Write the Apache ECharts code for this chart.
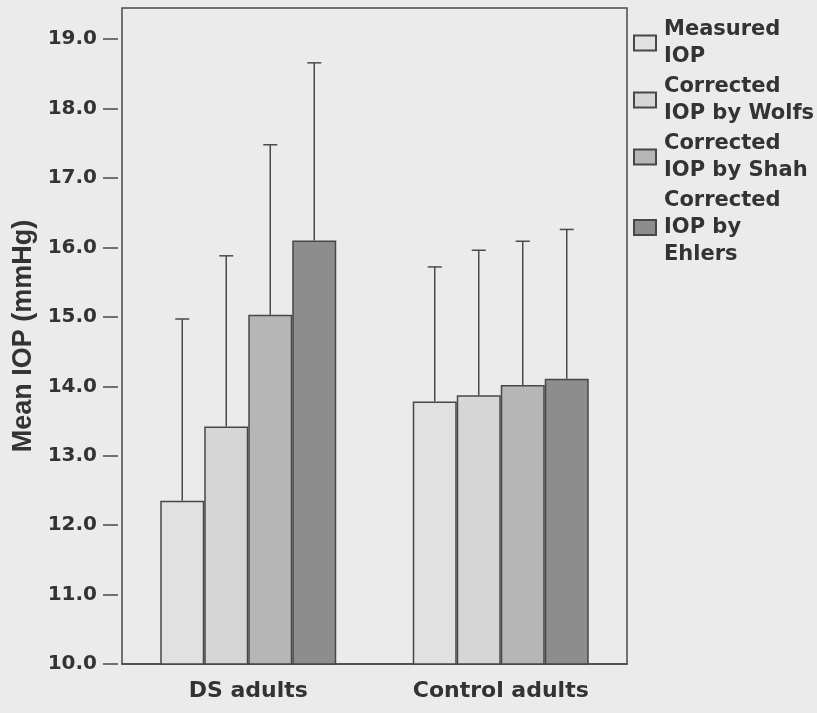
<!DOCTYPE html>
<html>
<head>
<meta charset="utf-8">
<script src="https://cdn.jsdelivr.net/npm/echarts@6/dist/echarts.min.js"></script>
<style>
  html, body { margin: 0; padding: 0; background: #ebebeb; }
  #main { width: 817px; height: 713px; }
</style>
</head>
<body>
<div id="main"></div>
<script>
// categories and values
var categories = ['DS adults', 'Control adults'];
var seriesNames = ['Measured\nIOP', 'Corrected\nIOP by Wolfs', 'Corrected\nIOP by Shah', 'Corrected\nIOP by\nEhlers'];
var measured = [12.35, 13.78];
var measuredUpper = [14.97, 15.72];
var wolfs = [13.42, 13.87];
var wolfsUpper = [15.88, 15.96];
var shah = [15.03, 14.02];
var shahUpper = [17.48, 16.09];
var ehlers = [16.10, 14.11];
var ehlersUpper = [18.66, 16.26];
var yTicks = [10, 11, 12, 13, 14, 15, 16, 17, 18, 19];

var colors = ['#e1e1e1', '#d6d6d6', '#b6b6b6', '#8d8d8d'];
var means = [measured, wolfs, shah, ehlers];
var uppers = [measuredUpper, wolfsUpper, shahUpper, ehlersUpper];
var barW = 44;
var edge = '#474747';

var myChart = echarts.init(document.getElementById('main'));

var series = [];
for (let s = 0; s < means.length; s++) {
  series.push({
    name: seriesNames[s],
    type: 'bar',
    data: means[s],
    barWidth: barW,
    barGap: '0%',
    itemStyle: { color: colors[s], borderColor: edge, borderWidth: 1.5 },
    emphasis: { disabled: true }
  });
}

// error bars (upper only)
var errData = [];
for (let s = 0; s < means.length; s++) {
  for (let i = 0; i < categories.length; i++) {
    errData.push([i, means[s][i], uppers[s][i], s]);
  }
}
series.push({
  type: 'custom',
  data: errData,
  z: 5,
  renderItem: function (params, api) {
    var off = (api.value(3) - 1.5) * barW;
    var base = api.coord([api.value(0), api.value(1)]);
    var top = api.coord([api.value(0), api.value(2)]);
    var x = base[0] + off;
    var st = { stroke: '#4a4a4a', lineWidth: 1.5 };
    return {
      type: 'group',
      children: [
        { type: 'line', shape: { x1: x, y1: base[1], x2: x, y2: top[1] }, style: st },
        { type: 'line', shape: { x1: x - 7, y1: top[1], x2: x + 7, y2: top[1] }, style: st }
      ]
    };
  }
});

var option = {
  animation: false,
  backgroundColor: '#ebebeb',
  grid: {
    left: 122, right: 190, top: 8, bottom: 49,
    show: true, borderColor: '#4a4a4a', borderWidth: 1.5, backgroundColor: 'transparent'
  },
  legend: {
    orient: 'vertical',
    left: 628,
    top: 11,
    itemGap: 3,
    itemWidth: 22,
    itemHeight: 15,
    icon: 'rect',
    data: seriesNames,
    textStyle: {
      fontFamily: 'DejaVu Sans',
      fontWeight: 'bold',
      fontSize: 21,
      lineHeight: 27,
      color: '#333',
      padding: [0, 0, 0, 3]
    }
  },
  xAxis: {
    type: 'category',
    data: categories,
    axisLine: { lineStyle: { color: '#4a4a4a', width: 1.5 } },
    axisTick: { alignWithLabel: true, length: 17, lineStyle: { color: '#4a4a4a', width: 1.5 } },
    axisLabel: {
      margin: 16,
      fontFamily: 'DejaVu Sans',
      fontWeight: 'bold',
      fontSize: 22,
      color: '#333'
    }
  },
  yAxis: {
    type: 'value',
    min: 10,
    max: 19.45,
    offset: 4,
    name: 'Mean IOP (mmHg)',
    nameLocation: 'middle',
    nameGap: 72,
    nameTextStyle: {
      fontFamily: 'Liberation Sans',
      fontWeight: 'bold',
      fontSize: 27,
      color: '#333'
    },
    splitLine: { show: false },
    axisLine: { show: false },
    axisTick: { show: true, length: 15, customValues: yTicks, lineStyle: { color: '#4a4a4a', width: 1.5 } },
    axisLabel: {
      customValues: yTicks,
      margin: 21,
      fontFamily: 'DejaVu Sans',
      fontWeight: 'bold',
      fontSize: 20,
      color: '#333',
      formatter: function (v) { return v.toFixed(1); }
    }
  },
  series: series
};

myChart.setOption(option);
</script>
</body>
</html>
